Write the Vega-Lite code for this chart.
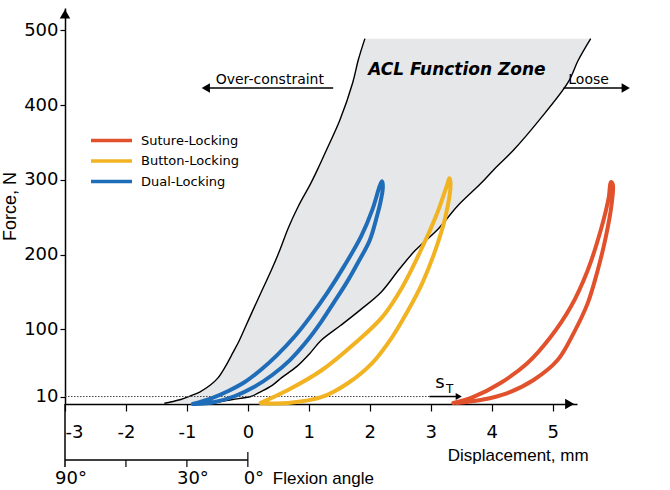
{
  "$schema": "https://vega.github.io/schema/vega-lite/v6.json",
  "width": 512,
  "height": 396,
  "autosize": {"type": "none"},
  "padding": {"left": 65, "top": 8, "right": 93, "bottom": 86},
  "background": "white",
  "config": {
    "view": {"stroke": null},
    "axis": {"grid": false, "domainColor": "black", "tickColor": "black", "labelColor": "black", "labelFont": "DejaVu Sans", "labelFontSize": 18, "domainWidth": 1.5, "tickWidth": 1.2, "labelFlush": false},
    "text": {"font": "DejaVu Sans", "color": "black"}
  },
  "datasets": {
    "zone": [
      {"F": 1, "xl": -1.37, "xr": -0.62},
      {"F": 3, "xl": -1.25, "xr": -0.46},
      {"F": 6, "xl": -1.1, "xr": -0.25},
      {"F": 10, "xl": -0.97, "xr": 0.05},
      {"F": 16, "xl": -0.79, "xr": 0.2},
      {"F": 25, "xl": -0.62, "xr": 0.4},
      {"F": 35, "xl": -0.49, "xr": 0.55},
      {"F": 50, "xl": -0.37, "xr": 0.8},
      {"F": 68, "xl": -0.25, "xr": 1.02},
      {"F": 85, "xl": -0.14, "xr": 1.2},
      {"F": 105, "xl": -0.03, "xr": 1.52},
      {"F": 125, "xl": 0.08, "xr": 1.83},
      {"F": 150, "xl": 0.22, "xr": 2.19},
      {"F": 180, "xl": 0.39, "xr": 2.48},
      {"F": 205, "xl": 0.52, "xr": 2.74},
      {"F": 235, "xl": 0.66, "xr": 3.13},
      {"F": 265, "xl": 0.83, "xr": 3.44},
      {"F": 295, "xl": 1.03, "xr": 3.82},
      {"F": 315, "xl": 1.15, "xr": 4.05},
      {"F": 340, "xl": 1.29, "xr": 4.36},
      {"F": 380, "xl": 1.51, "xr": 4.78},
      {"F": 430, "xl": 1.72, "xr": 5.25},
      {"F": 460, "xl": 1.81, "xr": 5.42},
      {"F": 489, "xl": 1.92, "xr": 5.625}
    ],
    "loops": [
      {"s": "Dual-Locking", "i": 0, "d": -0.905, "f": 0},
      {"s": "Dual-Locking", "i": 1, "d": -0.59, "f": 8},
      {"s": "Dual-Locking", "i": 2, "d": -0.32, "f": 17.4},
      {"s": "Dual-Locking", "i": 3, "d": -0.05, "f": 29.4},
      {"s": "Dual-Locking", "i": 4, "d": 0.21, "f": 45.5},
      {"s": "Dual-Locking", "i": 5, "d": 0.48, "f": 65.5},
      {"s": "Dual-Locking", "i": 6, "d": 0.76, "f": 89.6},
      {"s": "Dual-Locking", "i": 7, "d": 1.02, "f": 116.3},
      {"s": "Dual-Locking", "i": 8, "d": 1.3, "f": 148.4},
      {"s": "Dual-Locking", "i": 9, "d": 1.58, "f": 184.5},
      {"s": "Dual-Locking", "i": 10, "d": 1.86, "f": 224.6},
      {"s": "Dual-Locking", "i": 11, "d": 2.04, "f": 259.4},
      {"s": "Dual-Locking", "i": 12, "d": 2.165, "f": 292},
      {"s": "Dual-Locking", "i": 13, "d": 2.2, "f": 298},
      {"s": "Dual-Locking", "i": 14, "d": 2.215, "f": 290},
      {"s": "Dual-Locking", "i": 15, "d": 2.17, "f": 268},
      {"s": "Dual-Locking", "i": 16, "d": 2.12, "f": 252},
      {"s": "Dual-Locking", "i": 17, "d": 2.0, "f": 219.3},
      {"s": "Dual-Locking", "i": 18, "d": 1.81, "f": 189.8},
      {"s": "Dual-Locking", "i": 19, "d": 1.615, "f": 161.8},
      {"s": "Dual-Locking", "i": 20, "d": 1.415, "f": 136.4},
      {"s": "Dual-Locking", "i": 21, "d": 1.2, "f": 109.6},
      {"s": "Dual-Locking", "i": 22, "d": 0.955, "f": 82.9},
      {"s": "Dual-Locking", "i": 23, "d": 0.69, "f": 58.8},
      {"s": "Dual-Locking", "i": 24, "d": 0.4, "f": 38.8},
      {"s": "Dual-Locking", "i": 25, "d": 0.1, "f": 22.7},
      {"s": "Dual-Locking", "i": 26, "d": -0.21, "f": 10.7},
      {"s": "Dual-Locking", "i": 27, "d": -0.543, "f": 2.7},
      {"s": "Dual-Locking", "i": 28, "d": -0.88, "f": 0},
      {"s": "Button-Locking", "i": 0, "d": 0.21, "f": 1.5},
      {"s": "Button-Locking", "i": 1, "d": 0.658, "f": 18.7},
      {"s": "Button-Locking", "i": 2, "d": 1.217, "f": 45.5},
      {"s": "Button-Locking", "i": 3, "d": 1.76, "f": 81.6},
      {"s": "Button-Locking", "i": 4, "d": 2.204, "f": 116.3},
      {"s": "Button-Locking", "i": 5, "d": 2.533, "f": 156.4},
      {"s": "Button-Locking", "i": 6, "d": 2.862, "f": 209.9},
      {"s": "Button-Locking", "i": 7, "d": 3.125, "f": 259.4},
      {"s": "Button-Locking", "i": 8, "d": 3.28, "f": 296},
      {"s": "Button-Locking", "i": 9, "d": 3.306, "f": 302},
      {"s": "Button-Locking", "i": 10, "d": 3.325, "f": 294},
      {"s": "Button-Locking", "i": 11, "d": 3.24, "f": 250},
      {"s": "Button-Locking", "i": 12, "d": 3.076, "f": 205.9},
      {"s": "Button-Locking", "i": 13, "d": 2.862, "f": 161.8},
      {"s": "Button-Locking", "i": 14, "d": 2.632, "f": 125.7},
      {"s": "Button-Locking", "i": 15, "d": 2.368, "f": 89.6},
      {"s": "Button-Locking", "i": 16, "d": 2.039, "f": 54.8},
      {"s": "Button-Locking", "i": 17, "d": 1.645, "f": 28.1},
      {"s": "Button-Locking", "i": 18, "d": 1.217, "f": 9.4},
      {"s": "Button-Locking", "i": 19, "d": 0.658, "f": 1.3},
      {"s": "Button-Locking", "i": 20, "d": 0.23, "f": 1},
      {"s": "Suture-Locking", "i": 0, "d": 3.372, "f": 1.3},
      {"s": "Suture-Locking", "i": 1, "d": 3.701, "f": 9.4},
      {"s": "Suture-Locking", "i": 2, "d": 4.145, "f": 28.1},
      {"s": "Suture-Locking", "i": 3, "d": 4.589, "f": 54.8},
      {"s": "Suture-Locking", "i": 4, "d": 4.967, "f": 89.6},
      {"s": "Suture-Locking", "i": 5, "d": 5.296, "f": 129.7},
      {"s": "Suture-Locking", "i": 6, "d": 5.576, "f": 179.1},
      {"s": "Suture-Locking", "i": 7, "d": 5.789, "f": 232.6},
      {"s": "Suture-Locking", "i": 8, "d": 5.921, "f": 276.7},
      {"s": "Suture-Locking", "i": 9, "d": 5.954, "f": 297},
      {"s": "Suture-Locking", "i": 10, "d": 5.987, "f": 294},
      {"s": "Suture-Locking", "i": 11, "d": 5.97, "f": 268.7},
      {"s": "Suture-Locking", "i": 12, "d": 5.872, "f": 223.3},
      {"s": "Suture-Locking", "i": 13, "d": 5.74, "f": 179.1},
      {"s": "Suture-Locking", "i": 14, "d": 5.576, "f": 135},
      {"s": "Suture-Locking", "i": 15, "d": 5.345, "f": 94.9},
      {"s": "Suture-Locking", "i": 16, "d": 5.082, "f": 58.8},
      {"s": "Suture-Locking", "i": 17, "d": 4.688, "f": 32.1},
      {"s": "Suture-Locking", "i": 18, "d": 4.26, "f": 14.7},
      {"s": "Suture-Locking", "i": 19, "d": 3.816, "f": 5.3},
      {"s": "Suture-Locking", "i": 20, "d": 3.43, "f": 1.3}
    ],
    "flexticks": [{"a": -2}, {"a": -1}, {"a": 0}],
    "flexlabels": [{"a": -3, "lab": "90°"}, {"a": -1, "lab": "30°"}, {"a": 0, "lab": "0°"}]
  },
  "layer": [
    {
      "data": {"name": "zone"},
      "mark": {"type": "area", "orient": "horizontal", "color": "#e6e7e8", "interpolate": "catmull-rom"},
      "encoding": {
        "x": {"field": "xl", "type": "quantitative", "scale": {"domain": [-3, 5.4], "nice": false, "zero": false}},
        "x2": {"field": "xr"},
        "y": {"field": "F", "type": "quantitative", "scale": {"domain": [0, 530], "nice": false, "zero": false}}
      }
    },
    {
      "data": {"name": "zone"},
      "mark": {"type": "line", "color": "black", "strokeWidth": 1.4, "interpolate": "catmull-rom"},
      "encoding": {
        "x": {"field": "xl", "type": "quantitative",
          "axis": {"values": [-3, -2, -1, 0, 1, 2, 3, 4, 5], "tickSize": 7, "labelPadding": 12, "title": null,
            "labelExpr": "datum.value === -3 ? '\u00a0-3' : '' + datum.value",
            "labelAlign": {"condition": {"test": "datum.value === -3", "value": "left"}, "value": "center"}}},
        "y": {"field": "F", "type": "quantitative",
          "axis": {"values": [10, 100, 200, 300, 400, 500], "tickSize": 5, "labelPadding": 2, "title": "Force, N",
            "titleFont": "Liberation Sans", "titleFontSize": 18, "titleFontWeight": "normal", "titleColor": "black", "titlePadding": 4}},
        "order": {"field": "F"}
      }
    },
    {
      "data": {"name": "zone"},
      "mark": {"type": "line", "color": "black", "strokeWidth": 1.4, "interpolate": "catmull-rom"},
      "encoding": {
        "x": {"field": "xr", "type": "quantitative"},
        "y": {"field": "F", "type": "quantitative"},
        "order": {"field": "F"}
      }
    },
    {
      "data": {"values": [{}]},
      "mark": {"type": "rule", "strokeDash": [1.5, 1.5], "color": "#444444", "strokeWidth": 1},
      "encoding": {"x": {"datum": -3, "type": "quantitative"}, "x2": {"datum": 2.98}, "y": {"datum": 10, "type": "quantitative"}}
    },
    {
      "data": {"name": "loops"},
      "mark": {"type": "line", "strokeWidth": 4, "interpolate": "catmull-rom", "strokeCap": "round", "strokeJoin": "round"},
      "encoding": {
        "x": {"field": "d", "type": "quantitative"},
        "y": {"field": "f", "type": "quantitative"},
        "color": {"field": "s", "type": "nominal",
          "scale": {"domain": ["Suture-Locking", "Button-Locking", "Dual-Locking"], "range": ["#e1512b", "#f2b322", "#1f6db8"]},
          "legend": {"orient": "none", "legendX": 24, "legendY": 123, "title": null, "symbolType": "stroke", "symbolSize": 1681,
            "symbolStrokeWidth": 3.5, "clipHeight": 19, "rowPadding": 1.5, "labelFontSize": 13, "labelFont": "DejaVu Sans",
            "labelOffset": 7, "padding": 0, "labelColor": "black"}},
        "order": {"field": "i"}
      }
    },
    {
      "data": {"values": [{}]},
      "mark": {"type": "rule", "color": "black", "strokeWidth": 1.5},
      "encoding": {"x": {"datum": 2.98, "type": "quantitative"}, "x2": {"datum": 3.42}, "y": {"datum": 10, "type": "quantitative"}}
    },
    {
      "data": {"values": [{}]},
      "mark": {"type": "point", "shape": "triangle-right", "filled": true, "color": "black", "opacity": 1, "size": 50},
      "encoding": {"x": {"datum": 3.46, "type": "quantitative"}, "y": {"datum": 10, "type": "quantitative"}}
    },
    {
      "data": {"values": [{}]},
      "mark": {"type": "text", "text": "s", "fontSize": 18, "align": "center", "baseline": "alphabetic"},
      "encoding": {"x": {"datum": 3.15, "type": "quantitative"}, "y": {"datum": 21.4, "type": "quantitative"}}
    },
    {
      "data": {"values": [{}]},
      "mark": {"type": "text", "text": "T", "fontSize": 12, "align": "center", "baseline": "alphabetic"},
      "encoding": {"x": {"datum": 3.31, "type": "quantitative"}, "y": {"datum": 14.7, "type": "quantitative"}}
    },
    {
      "data": {"values": [{}]},
      "mark": {"type": "point", "shape": "triangle-right", "filled": true, "color": "black", "opacity": 1, "size": 110},
      "encoding": {"x": {"datum": 5.28, "type": "quantitative"}, "y": {"datum": 0, "type": "quantitative"}}
    },
    {
      "data": {"values": [{}]},
      "mark": {"type": "point", "shape": "triangle-up", "filled": true, "color": "black", "opacity": 1, "size": 110},
      "encoding": {"x": {"datum": -3, "type": "quantitative"}, "y": {"datum": 522, "type": "quantitative"}}
    },
    {
      "data": {"values": [{}]},
      "mark": {"type": "rule", "color": "black", "strokeWidth": 1.5},
      "encoding": {"x": {"datum": -0.7, "type": "quantitative"}, "x2": {"datum": 1.4}, "y": {"datum": 423, "type": "quantitative"}}
    },
    {
      "data": {"values": [{}]},
      "mark": {"type": "point", "shape": "triangle-left", "filled": true, "color": "black", "opacity": 1, "size": 90},
      "encoding": {"x": {"datum": -0.69, "type": "quantitative"}, "y": {"datum": 423, "type": "quantitative"}}
    },
    {
      "data": {"values": [{}]},
      "mark": {"type": "text", "text": "Over-constraint", "fontSize": 14, "align": "center", "baseline": "alphabetic"},
      "encoding": {"x": {"datum": 0.36, "type": "quantitative"}, "y": {"datum": 428, "type": "quantitative"}}
    },
    {
      "data": {"values": [{}]},
      "mark": {"type": "rule", "color": "black", "strokeWidth": 1.5},
      "encoding": {"x": {"datum": 5.18, "type": "quantitative"}, "x2": {"datum": 6.15}, "y": {"datum": 423, "type": "quantitative"}}
    },
    {
      "data": {"values": [{}]},
      "mark": {"type": "point", "shape": "triangle-right", "filled": true, "color": "black", "opacity": 1, "size": 90},
      "encoding": {"x": {"datum": 6.2, "type": "quantitative"}, "y": {"datum": 423, "type": "quantitative"}}
    },
    {
      "data": {"values": [{}]},
      "mark": {"type": "text", "text": "Loose", "fontSize": 14, "align": "center", "baseline": "alphabetic"},
      "encoding": {"x": {"datum": 5.59, "type": "quantitative"}, "y": {"datum": 428, "type": "quantitative"}}
    },
    {
      "data": {"values": [{}]},
      "mark": {"type": "text", "text": "ACL Function Zone", "fontSize": 17, "fontWeight": "bold", "fontStyle": "italic", "align": "center", "baseline": "alphabetic"},
      "encoding": {"x": {"datum": 3.43, "type": "quantitative"}, "y": {"datum": 440, "type": "quantitative"}}
    },
    {
      "data": {"values": [{}]},
      "mark": {"type": "rule", "color": "black", "strokeWidth": 1.5},
      "encoding": {"x": {"datum": -3, "type": "quantitative"}, "x2": {"datum": 0}, "y": {"datum": -74.9, "type": "quantitative"}}
    },
    {
      "data": {"values": [{}]},
      "mark": {"type": "rule", "color": "black", "strokeWidth": 1.5},
      "encoding": {"x": {"datum": -3, "type": "quantitative"}, "y": {"datum": 0, "type": "quantitative"}, "y2": {"datum": -84.3}}
    },
    {
      "data": {"name": "flexticks"},
      "mark": {"type": "rule", "color": "black", "strokeWidth": 1.2},
      "encoding": {"x": {"field": "a", "type": "quantitative"}, "y": {"datum": -74.9, "type": "quantitative"}, "y2": {"datum": -84.3}}
    },
    {
      "data": {"values": [{}]},
      "mark": {"type": "rule", "color": "black", "strokeWidth": 1.2},
      "encoding": {"x": {"datum": 0, "type": "quantitative"}, "y": {"datum": -64.2, "type": "quantitative"}, "y2": {"datum": -74.9}}
    },
    {
      "data": {"name": "flexlabels"},
      "mark": {"type": "text", "fontSize": 18, "align": "center", "baseline": "middle", "dx": 6},
      "encoding": {"x": {"field": "a", "type": "quantitative"}, "y": {"datum": -100.4, "type": "quantitative"}, "text": {"field": "lab"}}
    },
    {
      "data": {"values": [{}]},
      "mark": {"type": "text", "text": "Flexion angle", "font": "Liberation Sans", "fontSize": 17, "align": "left", "baseline": "middle"},
      "encoding": {"x": {"datum": 0.41, "type": "quantitative"}, "y": {"datum": -100.4, "type": "quantitative"}}
    },
    {
      "data": {"values": [{}]},
      "mark": {"type": "text", "text": "Displacement, mm", "font": "Liberation Sans", "fontSize": 17, "align": "right", "baseline": "middle"},
      "encoding": {"x": {"datum": 5.59, "type": "quantitative"}, "y": {"datum": -69.6, "type": "quantitative"}}
    }
  ]
}
